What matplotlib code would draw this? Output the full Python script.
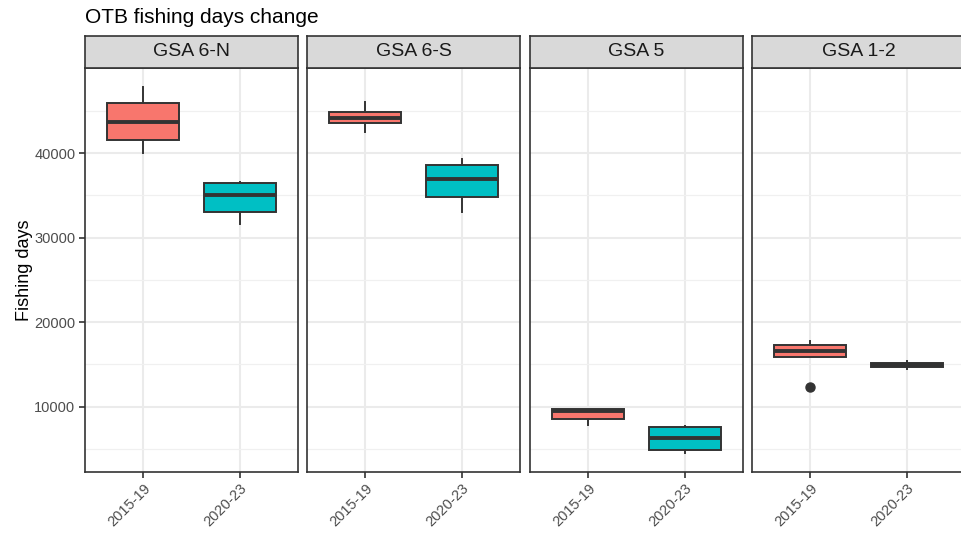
import matplotlib
matplotlib.use("Agg")
import matplotlib.pyplot as plt

plt.rcParams["font.family"] = ["Liberation Sans", "DejaVu Sans"]

# -----------------------------
# Data
# -----------------------------
areas = ["GSA 6-N", "GSA 6-S", "GSA 5", "GSA 1-2"]
periods = ["2015-19", "2020-23"]

# per area: [2015-19, 2020-23]
whislo = [[40050, 31600], [42450, 33050], [7800, 4500], [15890, 14440]]
q1 = [[41500, 33000], [43500, 34750], [8550, 4850], [15890, 14700]]
med = [[43700, 35000], [44200, 36900], [9500, 6300], [16600, 14970]]
q3 = [[45900, 36400], [44900, 38600], [9680, 7600], [17260, 15200]]
whishi = [[47850, 36550], [46000, 39250], [9680, 7730], [17780, 15380]]
fliers = [[[], []], [[], []], [[], []], [[12350], []]]

colors = ["#F8766D", "#00BFC4"]
ylim = (2300, 50060)

# -----------------------------
# Figure layout (pixel based)
# -----------------------------
W, H = 962, 533
fig = plt.figure(figsize=(W / 100, H / 100), dpi=100)

lefts = [85, 307, 530, 752]
pw = 213
top, bottom = 68, 471.7
strip_top = 36

for i, area in enumerate(areas):
    ax = fig.add_axes([lefts[i] / W, 1 - bottom / H, pw / W, (bottom - top) / H])
    stats = []
    for j in range(2):
        stats.append({
            "med": med[i][j], "q1": q1[i][j], "q3": q3[i][j],
            "whislo": whislo[i][j], "whishi": whishi[i][j],
            "fliers": fliers[i][j],
        })
    bp = ax.bxp(stats, positions=[1, 2], widths=0.75, patch_artist=True,
                showcaps=False,
                boxprops=dict(edgecolor="#333333", linewidth=1.4),
                medianprops=dict(color="#333333", linewidth=2.8),
                whiskerprops=dict(color="#333333", linewidth=1.4),
                flierprops=dict(marker="o", markerfacecolor="#333333",
                                markeredgecolor="#333333", markersize=6.5))
    for patch, c in zip(bp["boxes"], colors):
        patch.set_facecolor(c)
    for b in bp["boxes"] + bp["medians"] + bp["whiskers"]:
        b.set_zorder(3)

    ax.set_xlim(0.4, 2.6)
    ax.set_ylim(*ylim)
    ax.set_xticks([1, 2])
    ax.set_xticklabels(periods, rotation=45, ha="right", va="top",
                       rotation_mode="anchor", fontsize=10.5, color="#4D4D4D")
    ax.set_yticks([10000, 20000, 30000, 40000])
    ax.set_yticks([5000, 15000, 25000, 35000, 45000], minor=True)
    ax.grid(True, which="major", color="#EBEBEB", linewidth=1.5, zorder=0)
    ax.grid(True, which="minor", axis="y", color="#F0F0F0", linewidth=0.9, zorder=0)
    ax.set_axisbelow(True)
    ax.tick_params(axis="both", which="major", length=4.5, color="#333333",
                   width=1.2, labelsize=10.5, labelcolor="#4D4D4D", pad=2.5)
    ax.tick_params(axis="y", which="minor", length=0)
    if i == 0:
        ax.set_yticklabels(["10000", "20000", "30000", "40000"])
        ax.set_ylabel("Fishing days", fontsize=13, labelpad=1)
    else:
        ax.tick_params(axis="y", which="major", left=False, labelleft=False)
    for s in ax.spines.values():
        s.set_color("#333333")
        s.set_linewidth(1.2)

    # facet strip
    sax = fig.add_axes([lefts[i] / W, 1 - top / H, pw / W, (top - strip_top) / H])
    sax.set_xticks([])
    sax.set_yticks([])
    sax.set_facecolor("#D9D9D9")
    for s in sax.spines.values():
        s.set_color("#333333")
        s.set_linewidth(1.2)
    sax.text(0.5, 0.5, area, ha="center", va="center", fontsize=14,
             color="#1A1A1A", transform=sax.transAxes)

fig.text(85 / W, 1 - 23 / H, "OTB fishing days change", ha="left", va="baseline",
         fontsize=15, color="#000000")

fig.savefig("out.png", dpi=100)
